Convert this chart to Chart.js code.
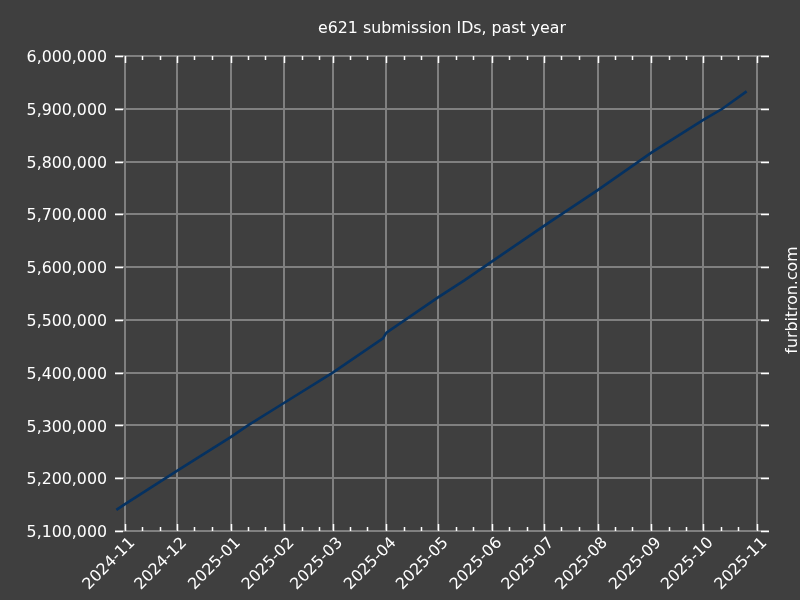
<!DOCTYPE html>
<html>
<head>
<meta charset="utf-8">
<script src="https://cdn.jsdelivr.net/npm/chart.js@4/dist/chart.umd.min.js"></script>
<style>
  html, body { margin: 0; padding: 0; background: #3f3f3f; }
  #c { display: block; }
</style>
</head>
<body>
<canvas id="c" width="800" height="600"></canvas>
<script>
// ---- data ----
const dates = ['2024-10-27','2024-11-01','2024-12-01','2025-01-01','2025-01-11','2025-02-01',
               '2025-03-01','2025-03-30','2025-04-01','2025-05-01','2025-05-16','2025-06-01',
               '2025-07-01','2025-08-01','2025-09-01','2025-10-01','2025-10-12','2025-10-26'];
const submissionIds = [5140000,5151000,5214000,5278000,5300000,5343000,
                       5400000,5465000,5476000,5543000,5575000,5611000,
                       5678000,5746000,5817000,5879000,5900000,5933000];
const monthTicks = ['2024-11','2024-12','2025-01','2025-02','2025-03','2025-04','2025-05',
                    '2025-06','2025-07','2025-08','2025-09','2025-10','2025-11'];
const minorDays = [11, 21];
const titleText = 'e621 submission IDs, past year';
const sideText = 'furbitron.com';

const DAY = 86400000;
const toMs = s => Date.parse(s.length === 7 ? s + '-01T00:00:00Z' : s + 'T00:00:00Z');
const points = dates.map((d, i) => ({ x: toMs(d), y: submissionIds[i] }));
const majorMs = monthTicks.map(toMs);
const xMin = toMs('2024-11') - 5.78 * DAY;
const xMax = toMs('2025-11') + 6.93 * DAY;

const FONT = '15.8px "DejaVu Sans"';
const WHITE = '#ffffff';
const GRID = '#808080';

const decorations = {
  id: 'decorations',
  beforeDraw(chart) {
    const ctx = chart.ctx;
    ctx.save();
    ctx.fillStyle = '#3f3f3f';
    ctx.fillRect(0, 0, chart.width, chart.height);
    ctx.restore();
  },
  afterDraw(chart) {
    const ctx = chart.ctx;
    const a = chart.chartArea;
    const xs = chart.scales.x, ys = chart.scales.y;
    ctx.save();
    ctx.strokeStyle = WHITE;
    ctx.lineWidth = 1.5;
    ctx.beginPath();
    majorMs.forEach(v => {
      const px = Math.round(xs.getPixelForValue(v)) + 0.5;
      ctx.moveTo(px, a.top); ctx.lineTo(px, a.top + 7);
      ctx.moveTo(px, a.bottom); ctx.lineTo(px, a.bottom - 7);
    });
    for (let i = 0; i < majorMs.length; i++) {
      const base = new Date(majorMs[i]);
      minorDays.forEach(d => {
        const v = Date.UTC(base.getUTCFullYear(), base.getUTCMonth(), d);
        if (v < xMin || v > xMax) return;
        const px = Math.round(xs.getPixelForValue(v)) + 0.5;
        ctx.moveTo(px, a.top); ctx.lineTo(px, a.top + 4);
        ctx.moveTo(px, a.bottom); ctx.lineTo(px, a.bottom - 4);
      });
    }
    ys.ticks.forEach(t => {
      const py = Math.round(ys.getPixelForValue(t.value)) + 0.5;
      ctx.moveTo(a.left, py); ctx.lineTo(a.left + 8, py);
      ctx.moveTo(a.right, py); ctx.lineTo(a.right - 8, py);
    });
    ctx.stroke();

    ctx.fillStyle = WHITE;
    ctx.font = FONT;
    ctx.textAlign = 'right';
    ctx.textBaseline = 'top';
    majorMs.forEach((v, i) => {
      const px = xs.getPixelForValue(v);
      ctx.save();
      ctx.translate(px + 2, a.bottom + 4);
      ctx.rotate(-Math.PI / 4);
      ctx.fillText(monthTicks[i], 0, 0);
      ctx.restore();
    });

    ctx.textAlign = 'center';
    ctx.textBaseline = 'middle';
    ctx.fillText(titleText, (a.left + a.right) / 2, 29);

    ctx.save();
    ctx.translate(793, 300);
    ctx.rotate(-Math.PI / 2);
    ctx.fillText(sideText, 0, 0);
    ctx.restore();
    ctx.restore();
  }
};

new Chart(document.getElementById('c'), {
  type: 'line',
  data: {
    datasets: [{
      data: points,
      borderColor: '#053160',
      borderWidth: 2.6,
      pointRadius: 0,
      tension: 0,
      fill: false
    }]
  },
  options: {
    responsive: false,
    animation: false,
    events: [],
    layout: { padding: { top: 56, left: 0, right: 0, bottom: 0 } },
    plugins: { legend: { display: false }, title: { display: false }, tooltip: { enabled: false } },
    scales: {
      x: {
        type: 'linear',
        min: xMin,
        max: xMax,
        afterBuildTicks(scale) { scale.ticks = majorMs.map(v => ({ value: v })); },
        afterFit(scale) { scale.height = 69; },
        ticks: { display: false },
        grid: { color: GRID, lineWidth: 2, drawTicks: false },
        border: { display: false }
      },
      y: {
        position: 'left',
        min: 5100000,
        max: 6000000,
        afterFit(scale) { scale.width = 115; },
        ticks: {
          stepSize: 100000,
          color: WHITE,
          font: { family: 'DejaVu Sans', size: 15.8 },
          padding: 8,
          labelOffset: 2,
          callback: v => v.toLocaleString('en-US')
        },
        grid: { color: GRID, lineWidth: 2, drawTicks: false },
        border: { display: false }
      },
      y2: {
        position: 'right',
        min: 5100000,
        max: 6000000,
        afterFit(scale) { scale.width = 31; },
        ticks: { display: false },
        grid: { display: false, drawTicks: false },
        border: { display: false }
      }
    }
  },
  plugins: [decorations]
});
</script>
</body>
</html>
